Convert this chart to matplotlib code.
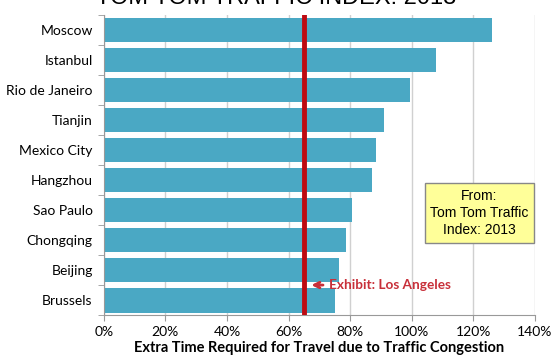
import matplotlib.pyplot as plt
from matplotlib.ticker import FuncFormatter

# data
cities = ["Moscow", "Istanbul", "Rio de Janeiro", "Tianjin", "Mexico City",
          "Hangzhou", "Sao Paulo", "Chongqing", "Beijing", "Brussels"]
extra_time = [126, 108, 99.5, 91, 88.5, 87, 80.5, 78.6, 76.5, 75]
los_angeles = 65
x_ticks = [0, 20, 40, 60, 80, 100, 120, 140]

plt.rcParams['font.family'] = ['Lato', 'DejaVu Sans']

fig = plt.figure(figsize=(5.52, 3.56), dpi=100)
ax = fig.add_axes([0.188, 0.115, 0.781, 0.843])

pos = list(range(len(cities)))
ax.barh(pos, extra_time, height=0.83, color="#4AA8C4", zorder=2)
ax.set_ylim(len(cities) - 0.5, -0.5)
ax.set_yticks(pos)
ax.set_yticklabels(cities, fontsize=10)
ax.set_yticks([p + 0.5 for p in range(-1, len(cities))], minor=True)
ax.tick_params(axis='y', which='major', length=0, pad=8)
ax.tick_params(axis='y', which='minor', length=4, color="#999999")

ax.set_xlim(0, 140)
ax.set_xticks(x_ticks)
ax.xaxis.set_major_formatter(FuncFormatter(lambda v, p: f"{v:.0f}%"))
ax.tick_params(axis='x', labelsize=10, length=4, color="#999999", pad=4)
ax.grid(axis='x', color="#d0d0d0", linewidth=1, zorder=0)

for s in ['top', 'right']:
    ax.spines[s].set_visible(False)
for s in ['left', 'bottom']:
    ax.spines[s].set_color("#999999")

ax.set_xlabel("Extra Time Required for Travel due to Traffic Congestion",
              fontsize=10.5, fontweight='bold', labelpad=2)

# Los Angeles reference line
ax.axvline(los_angeles, color="#BE0A12", linewidth=3.5, zorder=3)
ax.annotate("Exhibit: Los Angeles", xy=(los_angeles + 1.5, 8.5),
            xytext=(los_angeles + 8, 8.5), va='center', ha='left',
            fontsize=9.8, fontweight='bold', color="#C8303A",
            arrowprops=dict(arrowstyle='->', color="#C8303A", lw=2))

ax.text(122, 6.1, "From:\nTom Tom Traffic\nIndex: 2013", ha='center', va='center',
        fontsize=10, family=['Liberation Sans Narrow', 'Liberation Sans', 'DejaVu Sans'],
        linespacing=1.3, zorder=4,
        bbox=dict(boxstyle='square,pad=0.4', facecolor="#FFFF99", edgecolor="#888888"))

fig.text(0.5, 1.005, "TOM TOM TRAFFIC INDEX: 2013", ha='center', va='center',
         fontsize=17, family=['Liberation Sans', 'DejaVu Sans'])

fig.savefig("out.png", dpi=100)
